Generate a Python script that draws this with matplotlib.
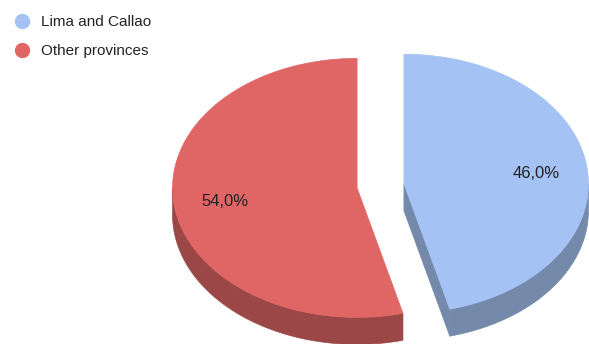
import numpy as np
import matplotlib
matplotlib.use("Agg")
import matplotlib.pyplot as plt
from matplotlib.patches import Polygon
from matplotlib.lines import Line2D

# ---- data ----
categories = ["Lima and Callao", "Other provinces"]
values = [46.0, 54.0]
top_colors = ["#a4c2f4", "#e06666"]
side_colors = ["#7589ab", "#9c4747"]

W, H = 589, 344
fig = plt.figure(figsize=(W / 100, H / 100), dpi=100)
ax = fig.add_axes([0, 0, 1, 1])
ax.set_xlim(0, W)
ax.set_ylim(H, 0)
ax.axis("off")

# geometry (pixel units)
cx0, cy0 = 380.5, 185.8
a, b = 184.5, 129.5
depth = 27
explode = 0.128

plt.rcParams["font.family"] = ["Liberation Sans", "DejaVu Sans"]
fs = 11
fs_label = 12

total = sum(values)
start = 0.0
for i, v in enumerate(values):
    t0 = start
    t1 = start + 2 * np.pi * v / total
    start = t1
    mid = 0.5 * (t0 + t1)
    cx = cx0 + explode * a * np.sin(mid)
    cy = cy0 - explode * b * np.cos(mid)

    def P(t, dz=0.0):
        return np.column_stack([cx + a * np.sin(t), cy - b * np.cos(t) + dz])

    apex = np.array([[cx, cy]])
    # radial faces
    for t, sgn in ((t0, -1), (t1, 1)):
        if sgn * np.sin(t) > 1e-6:
            e = P(np.array([t]))
            face = np.vstack([apex, e, e + [0, depth], apex + [0, depth]])
            ax.add_patch(Polygon(face, closed=True, fc=side_colors[i],
                                 ec=side_colors[i], lw=0.5))
    # outer wall (front half)
    lo, hi = max(t0, np.pi / 2), min(t1, 3 * np.pi / 2)
    if hi > lo:
        ts = np.linspace(lo, hi, 200)
        top_curve = P(ts)
        wall = np.vstack([top_curve, P(ts[::-1], depth)])
        ax.add_patch(Polygon(wall, closed=True, fc=side_colors[i],
                             ec=side_colors[i], lw=0.5))
    # top surface
    ts = np.linspace(t0, t1, 400)
    top = np.vstack([apex, P(ts)])
    ax.add_patch(Polygon(top, closed=True, fc=top_colors[i],
                         ec=top_colors[i], lw=0.5))
    # label
    r = 0.72
    lx = cx + r * a * np.sin(mid)
    ly = cy - r * b * np.cos(mid) + 1.5
    ax.text(lx, ly, f"{v:.1f}%".replace(".", ","), ha="center", va="center",
            fontsize=fs_label, color="#222222")

handles = [Line2D([], [], ls="none", marker="o", ms=10, mfc=c, mec=c)
           for c in top_colors]
leg = ax.legend(handles, categories, loc="upper left",
                bbox_to_anchor=(0.024, 0.955), frameon=False, fontsize=fs,
                handlelength=1.0, handletextpad=0.75, labelspacing=0.95,
                borderaxespad=0, borderpad=0)
for t in leg.get_texts():
    t.set_color("#222222")

fig.savefig("out.png", dpi=100)
